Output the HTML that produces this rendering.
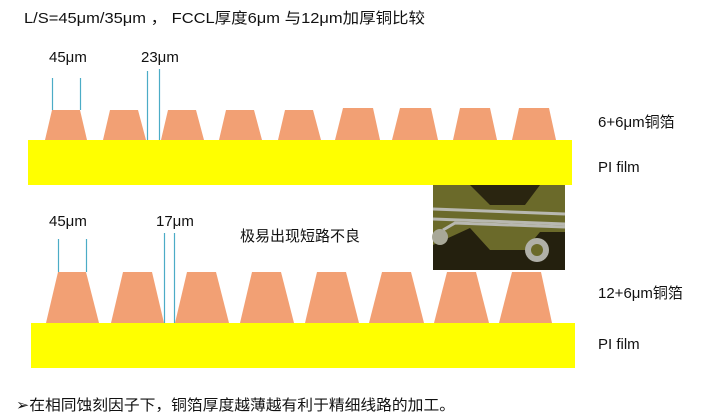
<!DOCTYPE html>
<html><head><meta charset="utf-8"><style>
html,body{margin:0;padding:0;background:#fff;width:717px;height:415px;overflow:hidden}
svg text{font-family:"Liberation Sans","Noto Sans CJK SC",sans-serif;fill:#111}
</style></head><body>
<svg width="717" height="415" viewBox="0 0 717 415" xmlns="http://www.w3.org/2000/svg">
<text x="24" y="23" font-size="15" textLength="401" lengthAdjust="spacingAndGlyphs">L/S=45μm/35μm ， FCCL厚度6μm 与12μm加厚铜比较</text>
<!-- top -->
<g fill="#f2a074">
<polygon points="45,140 52,110 80,110 87,140"/>
<polygon points="103,140 110,110 138,110 146,140"/>
<polygon points="161,140 168,110 196,110 204,140"/>
<polygon points="219,140 226,110 254,110 262,140"/>
<polygon points="278,140 285,110 313,110 321,140"/>
<polygon points="335,140 343,108 373,108 380,140"/>
<polygon points="392,140 400,108 431,108 438,140"/>
<polygon points="453,140 460,108 490,108 497,140"/>
<polygon points="512,140 519,108 549,108 556,140"/>
</g>
<rect x="28" y="140" width="544" height="45" fill="#ffff00"/>
<g stroke="#4bacc6" stroke-width="1.2">
<line x1="52.5" y1="78" x2="52.5" y2="110"/><line x1="80.5" y1="78" x2="80.5" y2="110"/>
<line x1="147.5" y1="71" x2="147.5" y2="140"/><line x1="159.5" y1="69" x2="159.5" y2="140"/>
</g>
<text x="49" y="62" font-size="15">45μm</text>
<text x="141" y="62" font-size="15">23μm</text>
<text x="598" y="127" font-size="15">6+6μm铜箔</text>
<text x="598" y="172" font-size="15">PI film</text>
<!-- photo -->
<rect x="433" y="185" width="132" height="85" fill="#2a2510"/>
<path d="M433,185 L470,185 L490,205 L525,205 L540,185 L565,185 L565,270 L433,270 Z" fill="#6b6a2a"/>
<path d="M470,228 L490,250 L525,250 L540,232 L565,232 L565,270 L433,270 L433,245 Z" fill="#24200e"/>
<g stroke="#b8b8b0" stroke-width="3" fill="none">
<path d="M433,209 L565,214"/><path d="M433,219 L565,224"/><path d="M443,230 L455,223 L565,227"/>
</g>
<circle cx="440" cy="237" r="8" fill="#a8a898"/>
<circle cx="537" cy="250" r="12" fill="#b0b0a8"/><circle cx="537" cy="250" r="6" fill="#6b6a2a"/>
<text x="240" y="241" font-size="15">极易出现短路不良</text>
<!-- bottom -->
<g fill="#f2a074">
<polygon points="46,323 58,272 86,272 99,323"/>
<polygon points="111,323 123,272 152,272 164,323"/>
<polygon points="175,323 187,272 216,272 229,323"/>
<polygon points="240,323 252,272 281,272 294,323"/>
<polygon points="305,323 317,272 346,272 359,323"/>
<polygon points="369,323 382,272 411,272 424,323"/>
<polygon points="434,323 447,272 476,272 489,323"/>
<polygon points="499,323 512,272 541,272 552,323"/>
</g>
<rect x="31" y="323" width="544" height="45" fill="#ffff00"/>
<g stroke="#4bacc6" stroke-width="1.2">
<line x1="58.5" y1="239" x2="58.5" y2="272"/><line x1="86.5" y1="239" x2="86.5" y2="272"/>
<line x1="164.5" y1="233" x2="164.5" y2="323"/><line x1="174.5" y1="233" x2="174.5" y2="323"/>
</g>
<text x="49" y="226" font-size="15">45μm</text>
<text x="156" y="226" font-size="15">17μm</text>
<text x="598" y="298" font-size="15">12+6μm铜箔</text>
<text x="598" y="349" font-size="15">PI film</text>
<text x="16" y="410" font-size="15" textLength="439" lengthAdjust="spacingAndGlyphs">➢在相同蚀刻因子下，铜箔厚度越薄越有利于精细线路的加工。</text>
</svg>
</body></html>
